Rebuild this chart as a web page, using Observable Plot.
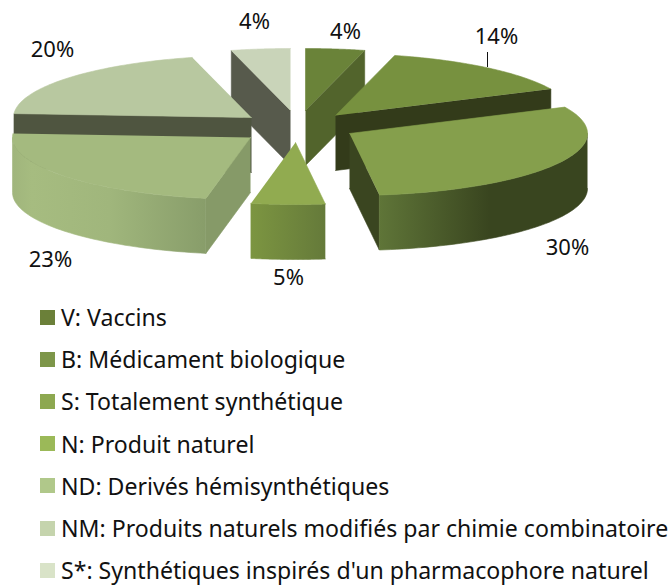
<!DOCTYPE html>
<html><head><meta charset="utf-8">
<script src="https://cdn.jsdelivr.net/npm/d3@7"></script>
<script src="https://cdn.jsdelivr.net/npm/@observablehq/plot@0.6"></script>
<style>
html,body{margin:0;padding:0;background:#fff;width:672px;height:585px;overflow:hidden}
#chart svg{display:block}
#legend{position:absolute;left:0;top:0;width:672px;font-family:"Noto Sans",sans-serif;color:#111}
.it{position:absolute;white-space:nowrap;font-size:23.1px;line-height:26px;left:61px}
.sw{position:absolute;left:40px;width:15px;height:15px}
</style></head><body>
<div id="chart"></div><div id="legend"></div>
<script>
const categories = ["V: Vaccins","B: Médicament biologique","S: Totalement synthétique","N: Produit naturel","ND: Derivés hémisynthétiques","NM: Produits naturels modifiés par chimie combinatoire","S*: Synthétiques inspirés d'un pharmacophore naturel"];
const shares = [4,14,30,5,23,20,4];

// layout and style, kept apart from the values
const centerX = [305,335,349,295,250,251,290];
const centerY = [110,115,133,142,137,117,110];
const labelX = [345,496,567,288,50,52,254];
const labelY = [31,36,247,277,259,49,21];
const topFill = ["#6a8339","#77913f","#859f4c","#91ab50","#a4ba7f","#b8c8a0","#c9d4b9"];
const wallFill = ["#52642c","#333b1a","#3a4520","#6f8840","#869a68","#4f5540","#575a4c"];
const arcFrom = ["#52642c","#333b1a","#5f7538","#7c9541","#a4ba7f","#4f5540","#575a4c"];
const arcTo = ["#52642c","#333b1a","#39451f","#657a3a","#889d6a","#4f5540","#575a4c"];
const swatch = ["#6b8039","#7d9649","#8da850","#9bb958","#b0c88a","#c5d4ad","#d9e3c8"];
const paintOrder = [6,0,5,1,4,2,3];
const rx = 238, ry = 62, depth = 55, svgH = 300;

const rad = d => d * Math.PI / 180;
const total = d3.sum(shares);
let acc = 0;
const slices = shares.map((v,i) => { const a0 = acc/total*360; acc += v; return {i, a0, a1: acc/total*360}; });
const rim = (s,a,dz=0) => ({x: centerX[s.i] + rx*Math.sin(rad(a)), y: centerY[s.i] - ry*Math.cos(rad(a)) + dz});
const apex = (s,dz=0) => ({x: centerX[s.i], y: centerY[s.i] + dz});
const arcPts = (s,a0,a1,dz=0) => d3.range(0, 61).map(k => rim(s, a0 + (a1-a0)*k/60, dz));
const poly = (pts,fill) => Plot.line(pts, {x:"x", y:"y", fill, stroke:fill, strokeWidth:0.6, strokeLinejoin:"round"});

const marks = [], defs = [];
for (const i of paintOrder) {
  const s = slices[i];
  const wall = a => poly([apex(s), rim(s,a), rim(s,a,depth), apex(s,depth)], wallFill[i]);
  if (Math.cos(rad(s.a0-90)) < 0) marks.push(wall(s.a0));
  if (Math.cos(rad(s.a1+90)) < 0) marks.push(wall(s.a1));
  const f0 = Math.max(s.a0,90), f1 = Math.min(s.a1,270);
  if (f1 > f0) {
    const L = rim(s,f1), R = rim(s,f0);
    const x1 = Math.min(L.x,R.x), x2 = Math.max(L.x,R.x);
    defs.push({id:"g"+i, x1, x2, from:arcFrom[i], to:arcTo[i], i});
    marks.push(poly([...arcPts(s,f0,f1), ...arcPts(s,f1,f0,depth)], `url(#g${i})`));
  }
  marks.push(poly([apex(s), ...arcPts(s,s.a0,s.a1)], topFill[i]));
}
// gradient spans, from the lit side to the shaded side
function gradientDefs() {
  const NS = "http://www.w3.org/2000/svg";
  const d = document.createElementNS(NS,"defs");
  for (const g of defs) {
    const lg = document.createElementNS(NS,"linearGradient");
    lg.setAttribute("id",g.id); lg.setAttribute("gradientUnits","userSpaceOnUse");
    const span = g.i===2 ? [g.x1, g.x1+110] : [g.x1, g.x2];
    lg.setAttribute("x1",span[0]); lg.setAttribute("x2",span[1]); lg.setAttribute("y1",0); lg.setAttribute("y2",0);
    const stops = g.i===4 ? [[0,"#a0b57c"],[0.1,"#a6bc80"],[0.5,"#a0b67c"],[1,g.to]] : [[0,g.from],[1,g.to]];
    for (const [o,c] of stops) { const st = document.createElementNS(NS,"stop"); st.setAttribute("offset",o); st.setAttribute("stop-color",c); lg.appendChild(st); }
    d.appendChild(lg);
  }
  return d;
}
const labels = shares.map((v,i) => ({t:v+"%", x:labelX[i], y:labelY[i]}));
const plot = Plot.plot({
  width:672, height:svgH, margin:0,
  x:{domain:[0,672], range:[0,672], axis:null},
  y:{domain:[0,svgH], range:[0,svgH], axis:null},
  marks:[
    gradientDefs,
    ...marks,
    Plot.ruleX([487], {y1:[52], y2:[67], stroke:"#111", strokeWidth:1}),
    Plot.text(labels, {x:"x", y:"y", text:"t", fontSize:22, fontFamily:"'Noto Sans', sans-serif", fill:"#111"})
  ]
});
document.getElementById("chart").appendChild(plot);
const legend = document.getElementById("legend");
categories.forEach((c,i) => {
  const cy = 317 + i*42.2;
  const sw = document.createElement("div"); sw.className="sw"; sw.style.top=(cy-7.5)+"px"; sw.style.background=swatch[i]; legend.appendChild(sw);
  const t = document.createElement("div"); t.className="it"; t.style.top=(cy-13)+"px"; t.textContent=c; legend.appendChild(t);
});
</script></body></html>
